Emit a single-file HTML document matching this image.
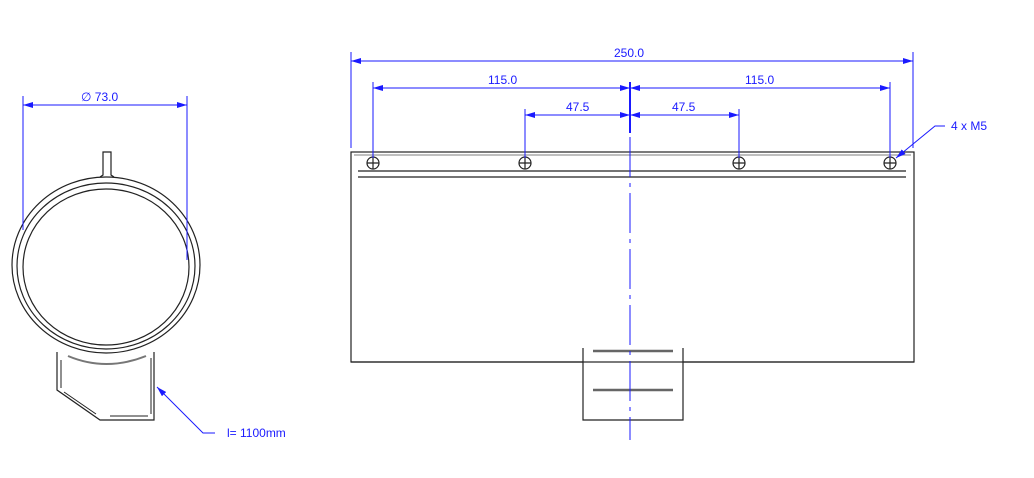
<!DOCTYPE html>
<html><head><style>body{margin:0;background:#fff}svg{display:block}text{font-family:"Liberation Sans",sans-serif;font-size:12px;fill:#1a1aff}</style></head><body>
<svg width="1034" height="478" viewBox="0 0 1034 478">
<defs><marker id="a" markerWidth="10" markerHeight="6" refX="10" refY="3" orient="auto-start-reverse" markerUnits="userSpaceOnUse"><path d="M0,0 L10,3 L0,6z" fill="#1a1aff"/></marker></defs>
<g fill="none" stroke="#222" stroke-width="1.2">
<ellipse cx="106" cy="265" rx="94" ry="88"/>
<ellipse cx="106" cy="266" rx="89" ry="83"/>
<ellipse cx="106" cy="267" rx="83" ry="78"/>
<path d="M100,177 L103,175 L103,152 L111,152 L111,175 L114,177"/>
<path d="M57,352 L57,390 L100,420 L154,420 L154,352"/>
<path d="M61,360 L61,388 M64,392 L96,414 M110,416 L148,416 M151,358 L151,414" stroke-width="1"/>
<path d="M68,356 Q106,372 146,356" stroke="#777" stroke-width="2"/>
<rect x="351" y="152" width="563" height="210"/>
<path d="M354,155 L911,155" stroke="#999"/>
<path d="M358,171 L906,171 M358,177 L906,177"/>
<path d="M583,348 L583,420 L683,420 L683,348 M583,362 L351,362 M683,362 L914,362" />
<path d="M593,351 L673,351 M593,390 L673,390" stroke="#666" stroke-width="2.5"/>
<circle cx="373" cy="163" r="6"/><path d="M367,163h12M373,157v12"/>
<circle cx="525" cy="163" r="6"/><path d="M519,163h12M525,157v12"/>
<circle cx="739" cy="163" r="6"/><path d="M733,163h12M739,157v12"/>
<circle cx="890" cy="163" r="6"/><path d="M884,163h12M890,157v12"/>
</g>
<g stroke="#1a1aff" stroke-width="1" fill="none">
<path d="M23,96 L23,230 M187,96 L187,260"/>
<line x1="23" y1="105" x2="187" y2="105" marker-start="url(#a)" marker-end="url(#a)"/>
<path d="M351,52 L351,148 M913,52 L913,148 M373,82 L373,158 M890,82 L890,158 M525,109 L525,158 M739,109 L739,158"/>
<line x1="351" y1="61" x2="913" y2="61" marker-start="url(#a)" marker-end="url(#a)"/>
<line x1="373" y1="88" x2="630" y2="88" marker-start="url(#a)" marker-end="url(#a)"/>
<line x1="630" y1="88" x2="890" y2="88" marker-start="url(#a)" marker-end="url(#a)"/>
<line x1="525" y1="115" x2="630" y2="115" marker-start="url(#a)" marker-end="url(#a)"/>
<line x1="630" y1="115" x2="739" y2="115" marker-start="url(#a)" marker-end="url(#a)"/>
<path d="M630,82 L630,133" stroke-width="2"/>
<path d="M630,137 L630,440" stroke-dasharray="40,6,4,6"/>
<path d="M945,126 L935,126 L896,158" marker-end="url(#a)"/>
<path d="M215,433 L203,433 L157,387" marker-end="url(#a)"/>
</g>
<text x="81" y="101">∅ 73.0</text>
<text x="614" y="57">250.0</text>
<text x="488" y="84">115.0</text>
<text x="745" y="84">115.0</text>
<text x="566" y="111">47.5</text>
<text x="672" y="111">47.5</text>
<text x="951" y="130">4 x M5</text>
<text x="227" y="437">l=  1100mm</text>
</svg></body></html>
